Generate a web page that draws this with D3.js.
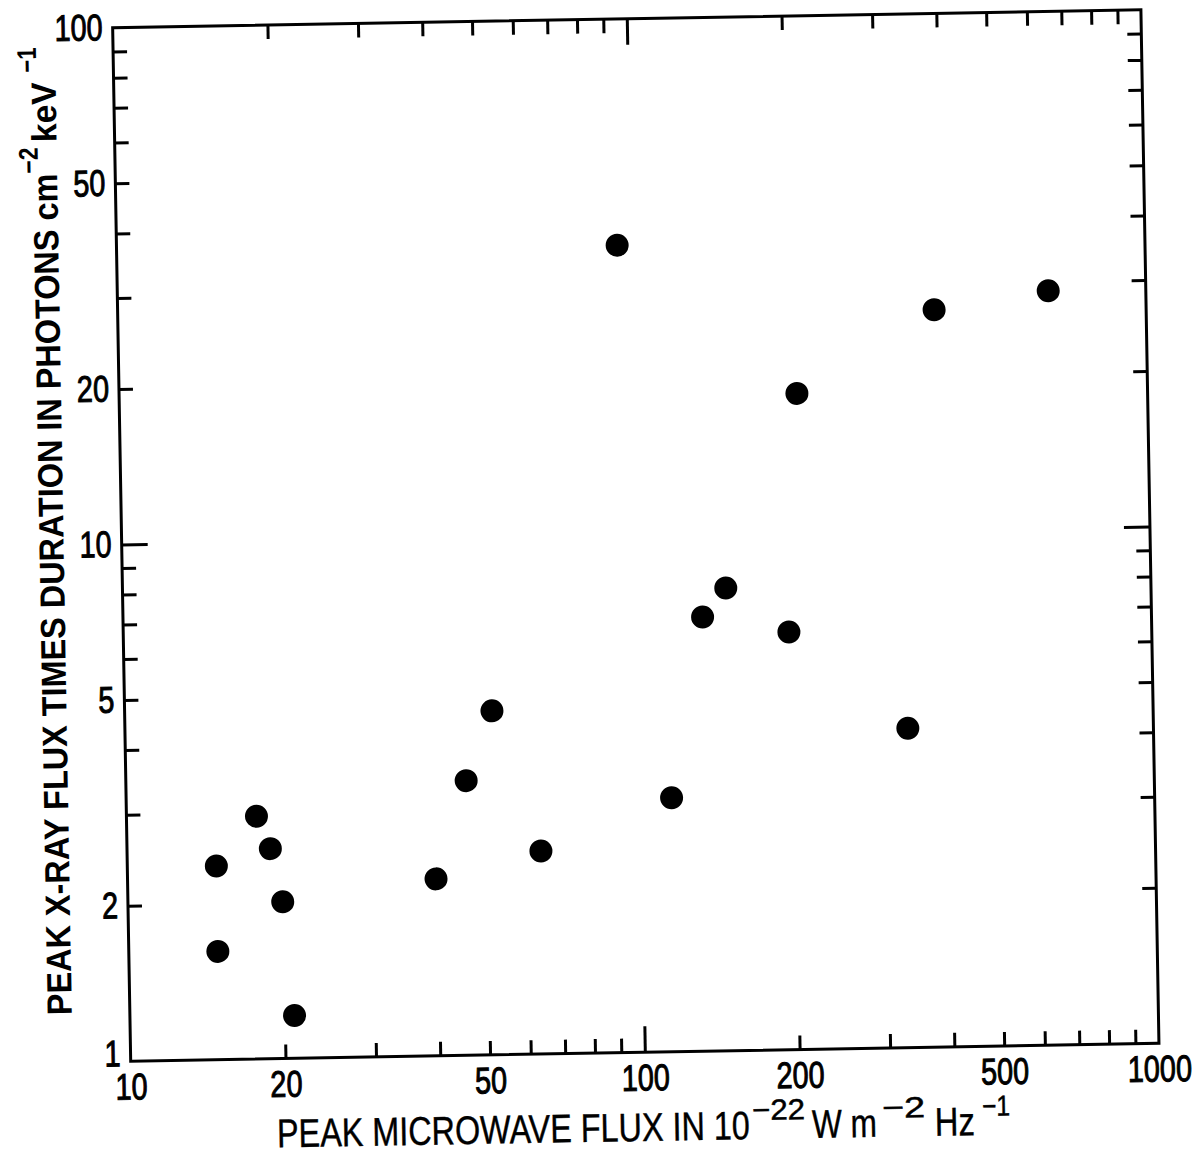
<!DOCTYPE html>
<html>
<head>
<meta charset="utf-8">
<script src="https://cdn.jsdelivr.net/npm/d3@7"></script>
<style>
  html, body { margin: 0; padding: 0; background: #fff; }
  svg { display: block; }
  text { font-family: "Liberation Sans", Arial, Helvetica, sans-serif; fill: #000; }
</style>
</head>
<body>
<script>
// Peak microwave flux (10^-22 W m^-2 Hz^-1) for each burst
const microwaveFlux = [14.9, 14.9, 17.9, 19.0, 20.0, 20.9, 39.8, 45.9, 51.8, 63.8,
                       94.1, 115, 134, 149, 197, 208, 333, 387, 646];
// Peak X-ray flux times duration (photons cm^-2 keV^-1) for the same bursts
const xrayFluence = [2.37, 1.62, 2.95, 2.55, 2.01, 1.21, 2.20, 3.40, 4.63, 2.47,
                     36.5, 3.10, 6.92, 7.86, 6.43, 18.6, 4.15, 26.7, 28.8];

const xTickLabels = [10, 20, 50, 100, 200, 500, 1000];
const yTickLabels = [1, 2, 5, 10, 20, 50, 100];
const xMajorTicks = [100];
const yMajorTicks = [10];

const W = 1194, H = 1155;
const box = { left: 121.6, right: 1150, top: 18.7, bottom: 1052.3 };
const cx = (box.left + box.right) / 2, cy = (box.top + box.bottom) / 2;

const x = d3.scaleLog().domain([10, 1000]).range([box.left, box.right]);
const y = d3.scaleLog().domain([1, 100]).range([box.bottom, box.top]);

// every integer multiple inside each decade
function logTicks(lo, hi) {
  const out = [];
  for (let d = lo; d < hi; d *= 10) for (let k = 1; k <= 9; k++) out.push(d * k);
  out.push(hi);
  return out;
}
const xMinor = logTicks(10, 1000).filter(v => !xMajorTicks.includes(v) && v !== 10 && v !== 1000);
const yMinor = logTicks(1, 100).filter(v => !yMajorTicks.includes(v) && v !== 1 && v !== 100);

const svg = d3.select("body").append("svg").attr("width", W).attr("height", H);
svg.append("rect").attr("width", W).attr("height", H).attr("fill", "#fff");

// the whole figure sits slightly tilted on the page
const g = svg.append("g").attr("transform", `rotate(-1 ${cx} ${cy})`);

const minorLen = 14, majorLen = 26, sw = 3;

function tickAxis(axisFn, scale, values, len, tx, ty) {
  const a = axisFn(scale).tickValues(values).tickSize(-len).tickFormat("");
  const s = g.append("g").attr("transform", `translate(${tx},${ty})`).call(a);
  s.select(".domain").remove();
  s.selectAll(".tick line").attr("stroke", "#000").attr("stroke-width", sw);
  return s;
}

// ticks on all four sides, pointing inward
tickAxis(d3.axisBottom, x, xMinor, minorLen, 0, box.bottom);
tickAxis(d3.axisBottom, x, xMajorTicks, majorLen, 0, box.bottom);
tickAxis(d3.axisTop, x, xMinor, minorLen, 0, box.top);
tickAxis(d3.axisTop, x, xMajorTicks, majorLen, 0, box.top);
tickAxis(d3.axisLeft, y, yMinor, minorLen, box.left, 0);
tickAxis(d3.axisLeft, y, yMajorTicks, majorLen, box.left, 0);
tickAxis(d3.axisRight, y, yMinor, minorLen, box.right, 0);
tickAxis(d3.axisRight, y, yMajorTicks, majorLen, box.right, 0);

// frame
g.append("rect")
  .attr("x", box.left).attr("y", box.top)
  .attr("width", box.right - box.left).attr("height", box.bottom - box.top)
  .attr("fill", "none").attr("stroke", "#000").attr("stroke-width", sw);

// tick labels, in a narrow face
const labelSize = 37, squeeze = 0.78;
const xl = g.append("g").attr("transform", `translate(0,${box.bottom})`)
  .call(d3.axisBottom(x).tickValues(xTickLabels).tickSize(0).tickPadding(12).tickFormat(d3.format("d")));
xl.select(".domain").remove();
xl.selectAll(".tick text")
  .attr("font-size", labelSize).attr("font-family", null)
  .attr("stroke", "#000").attr("stroke-width", 1)
  .attr("transform", `scale(${squeeze},1)`);

const yl = g.append("g").attr("transform", `translate(${box.left},0)`)
  .call(d3.axisLeft(y).tickValues(yTickLabels).tickSize(0).tickPadding(0).tickFormat(d3.format("d")));
yl.select(".domain").remove();
yl.selectAll(".tick text")
  .attr("font-size", labelSize).attr("font-family", null)
  .attr("stroke", "#000").attr("stroke-width", 1)
  .attr("x", -10 / squeeze)
  .attr("dy", d => d === 1 ? "0.12em" : "0.32em")
  .attr("transform", `scale(${squeeze},1)`);

// a piece of title text fitted to a given run length along its baseline
function piece(str, px, py, fs, len, weight, vertical) {
  const t = g.append("text").attr("font-size", fs).attr("font-weight", weight).text(str);
  const s = len / t.node().getComputedTextLength();
  t.attr("transform", vertical
    ? `translate(${px},${py}) rotate(-90) scale(${s},1)`
    : `translate(${px},${py}) scale(${s},1)`);
  return t;
}

// x-axis title
const xb = 1141, xsup = xb - 19;
piece("PEAK MICROWAVE FLUX IN 10", 266.6, xb, 40, 473, "normal", false).attr("stroke", "#000").attr("stroke-width", 0.4);
piece("\u221222", 742, xsup, 29, 53, "normal", false).attr("stroke", "#000").attr("stroke-width", 0.5);
piece("W m", 801.6, xb, 40, 65, "normal", false).attr("stroke", "#000").attr("stroke-width", 0.4);
piece("\u22122", 872, xsup, 29, 43, "normal", false).attr("stroke", "#000").attr("stroke-width", 0.5);
piece("Hz", 924.6, xb, 40, 40, "normal", false).attr("stroke", "#000").attr("stroke-width", 0.4);
piece("\u22121", 972, xsup, 29, 28, "normal", false).attr("stroke", "#000").attr("stroke-width", 0.5);

// y-axis title, read bottom to top
const yb = 63.5, ysup = yb - 19;
piece("PEAK X-RAY FLUX TIMES DURATION IN PHOTONS cm", yb, 1005, 35, 842, "bold", true);
piece("\u22122", ysup, 163, 27, 26, "bold", true);
piece(" keV", yb, 132, 35, 60, "bold", true);
piece("\u22121", ysup, 62, 27, 25, "bold", true);

// data points
g.append("g").selectAll("circle")
  .data(microwaveFlux.map((v, i) => [v, xrayFluence[i]]))
  .join("circle")
  .attr("cx", d => x(d[0]))
  .attr("cy", d => y(d[1]))
  .attr("r", 11.5)
  .attr("fill", "#000");
</script>
</body>
</html>
